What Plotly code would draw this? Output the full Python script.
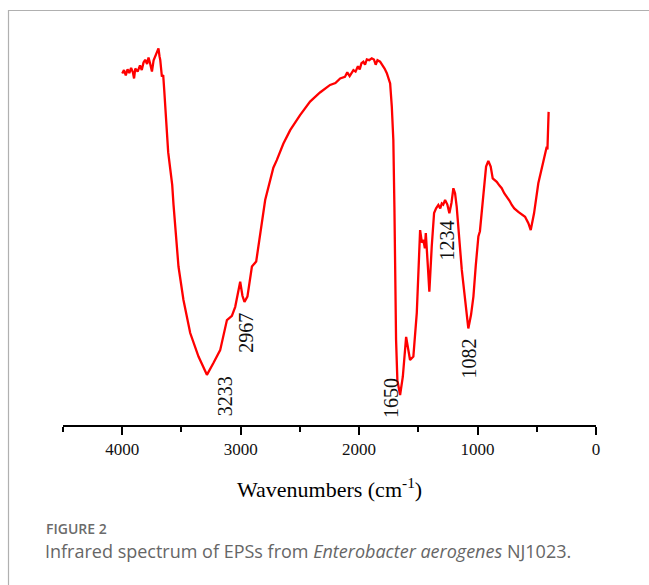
import plotly.graph_objects as go

# Wavenumber (cm-1) and relative transmittance
wavenumber = [4000, 3985, 3970, 3955, 3940, 3925, 3910, 3900, 3890, 3870, 3850, 3835, 3820, 3806,
              3790, 3778, 3765, 3749, 3735, 3722, 3710, 3694, 3685, 3679, 3665, 3654, 3645, 3637,
              3625, 3612, 3595, 3578, 3567, 3553, 3525, 3483, 3426, 3356, 3285, 3230, 3173, 3116,
              3074, 3046, 3020, 3004, 2985, 2968, 2943, 2905, 2869, 2835, 2793, 2724, 2695, 2640,
              2582, 2500, 2414, 2330, 2245, 2200, 2160, 2120, 2100, 2080, 2048, 2030, 2010, 1995,
              1980, 1964, 1950, 1935, 1915, 1893, 1875, 1860, 1845, 1823, 1800, 1785, 1766, 1750,
              1738, 1724, 1711, 1702, 1696, 1688, 1677, 1654, 1631, 1603, 1570, 1542, 1513, 1485,
              1470, 1457, 1445, 1437, 1420, 1407, 1387, 1367, 1350, 1331, 1315, 1302, 1290, 1274,
              1255, 1238, 1220, 1204, 1190, 1176, 1133, 1100, 1078, 1055, 1035, 1015, 993, 980,
              965, 950, 937, 928, 909, 895, 889, 872, 855, 838, 815, 796, 775, 754, 730, 711, 690,
              656, 625, 599, 571, 551, 523, 487, 445, 430, 416, 410, 403, 400]
transmittance = [92.5, 93.4, 92.0, 93.6, 92.6, 94.0, 92.8, 91.2, 93.8, 93.0, 94.6, 93.4, 95.4, 96.1,
                 95.0, 96.7, 95.2, 93.0, 96.0, 96.9, 97.8, 99.1, 97.0, 96.1, 91.7, 92.1, 88.0, 84.2,
                 78.0, 71.8, 67.5, 63.2, 58.0, 53.2, 41.7, 32.9, 24.2, 18.0, 13.2, 16.3, 19.7, 27.6,
                 28.7, 31.1, 35.0, 37.7, 34.0, 32.4, 33.8, 41.7, 43.0, 50.5, 59.2, 67.7, 69.7, 74.0,
                 77.6, 81.5, 85.1, 87.5, 89.5, 90.0, 91.2, 91.6, 92.8, 91.8, 93.4, 93.0, 94.4, 93.6,
                 95.2, 95.6, 94.8, 96.2, 96.0, 96.5, 96.2, 94.8, 96.0, 95.6, 94.6, 93.8, 92.6, 91.0,
                 89.9, 83.8, 75.0, 57.4, 40.0, 22.4, 11.8, 7.9, 12.7, 23.2, 17.1, 18.0, 29.5, 51.3,
                 48.0, 48.7, 46.5, 50.5, 42.0, 35.1, 46.9, 55.8, 57.0, 57.9, 57.0, 58.3, 58.0, 59.2,
                 58.0, 55.7, 58.5, 62.3, 61.0, 57.4, 40.8, 31.0, 25.4, 29.0, 33.8, 42.0, 49.6, 51.0,
                 55.7, 61.0, 64.5, 68.0, 69.5, 68.5, 68.0, 64.9, 64.5, 64.0, 63.0, 62.3, 61.0, 60.1,
                 59.0, 57.9, 57.0, 56.1, 55.5, 54.8, 53.1, 51.3, 55.7, 63.6, 69.3, 71.0, 73.2, 72.5,
                 76.8, 82.4]

# Peak labels (text, wavenumber position, transmittance position)
peak_labels = ["3233", "2967", "1650", "1082", "1234"]
peak_label_x = [3137, 2954, 1730, 1069, 1260]
peak_label_y = [7.7, 24.3, 7.1, 17.6, 48.5]

tick_values = [4000, 3000, 2000, 1000, 0]
tick_labels = ["4000", "3000", "2000", "1000", "0"]

W, H = 649, 585
ML, MR, MT, MB = 63, 53, 45, 160
pw, ph = W - ML - MR, H - MT - MB


def px(xpix):
    return (xpix - ML) / pw


def py(ypix):
    return (H - MB - ypix) / ph


fig = go.Figure()
fig.add_trace(go.Scatter(x=wavenumber, y=transmittance, mode="lines",
                         line=dict(color="#ff0000", width=2.3), hoverinfo="skip",
                         showlegend=False))

serif = "Liberation Serif, Times New Roman, serif"
for t, x, y in zip(peak_labels, peak_label_x, peak_label_y):
    fig.add_annotation(x=x, y=y, text=t, textangle=-90, showarrow=False,
                       font=dict(family=serif, size=20, color="#111111"),
                       xanchor="center", yanchor="middle")

fig.add_annotation(xref="paper", yref="paper", x=px(329), y=py(488),
                   text="Wavenumbers (cm<sup>-1</sup>)", showarrow=False,
                   font=dict(family=serif, size=22, color="#000000"),
                   xanchor="center", yanchor="middle")

fig.add_annotation(xref="paper", yref="paper", x=px(44), y=py(528),
                   text="FIGURE 2", showarrow=False,
                   font=dict(family="Open Sans, sans-serif", size=14, color="#6b6b6b",
                             weight=600),
                   xanchor="left", yanchor="middle")
fig.add_annotation(xref="paper", yref="paper", x=px(43), y=py(551),
                   text="Infrared spectrum of EPSs from <i>Enterobacter aerogenes</i> NJ1023.",
                   showarrow=False,
                   font=dict(family="Open Sans, sans-serif", size=18, color="#666666"),
                   xanchor="left", yanchor="middle")

fig.add_shape(type="rect", xref="paper", yref="paper",
              x0=px(8.5), x1=px(700), y0=py(700), y1=py(10.5),
              line=dict(color="#b0b0b0", width=1.2), layer="below")

fig.update_layout(
    width=W, height=H,
    margin=dict(l=ML, r=MR, t=MT, b=MB),
    paper_bgcolor="white", plot_bgcolor="white",
    xaxis=dict(range=[4500, 0], tickvals=tick_values, ticktext=tick_labels,
               showline=True, linecolor="black", linewidth=1.5,
               ticks="outside", ticklen=8, tickwidth=1.5, tickcolor="black",
               minor=dict(dtick=500, ticks="outside", ticklen=5, tickwidth=1.5,
                          tickcolor="black", showgrid=False),
               showgrid=False, zeroline=False,
               tickfont=dict(family=serif, size=17, color="#111111")),
    yaxis=dict(range=[0, 100], visible=False, showgrid=False, zeroline=False),
)

fig.write_html("out.html")
